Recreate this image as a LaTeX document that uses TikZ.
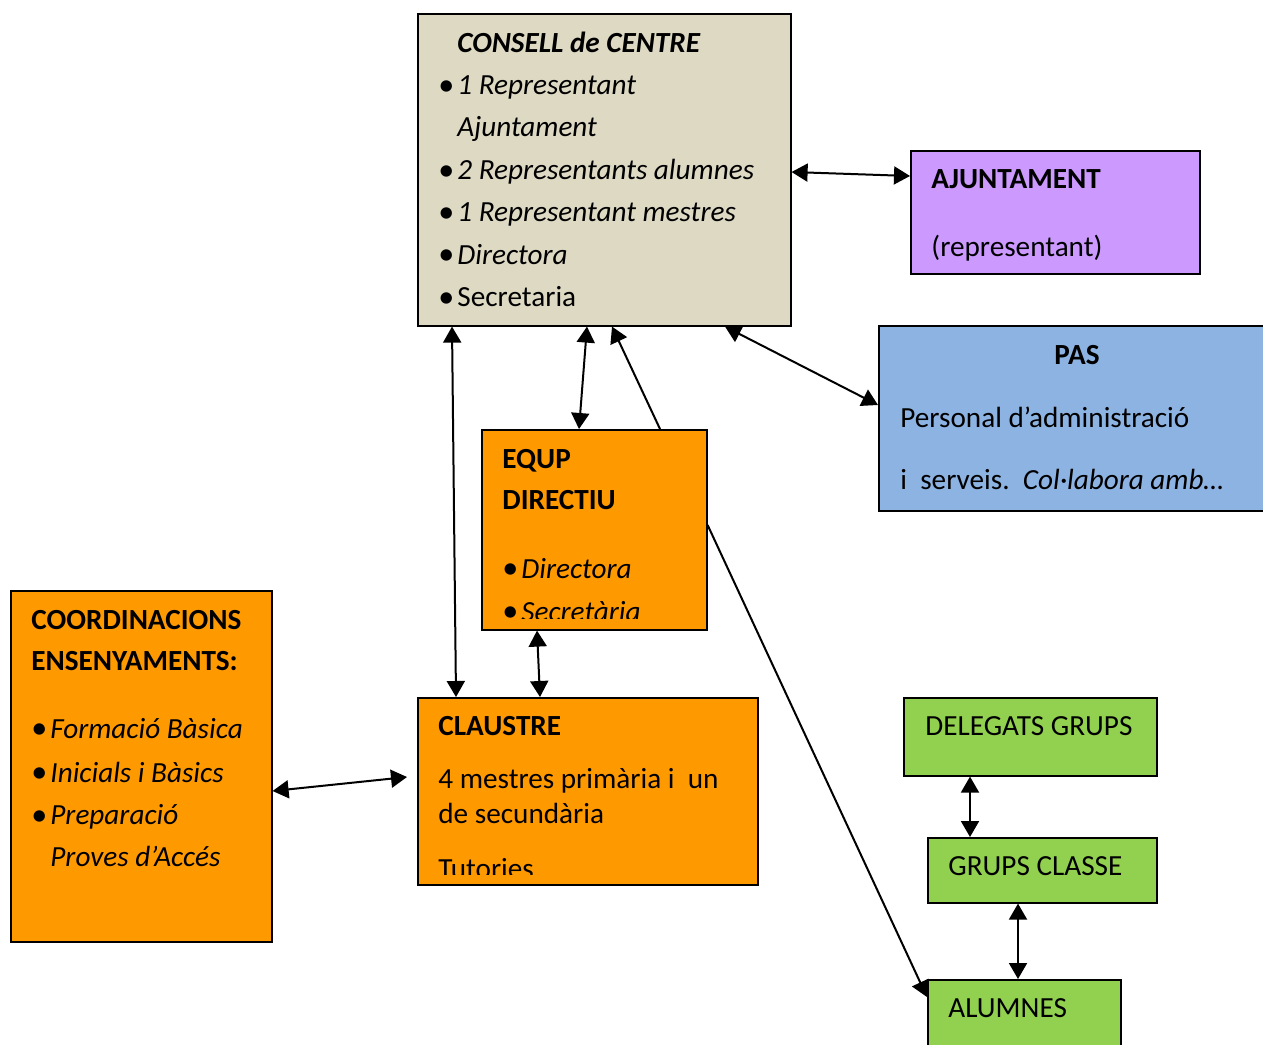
\documentclass[tikz,border=0pt]{standalone}
\usepackage{fontspec}
\setmainfont{Carlito}
\usetikzlibrary{arrows.meta}
\definecolor{consellbeige}{HTML}{DDD9C3}
\definecolor{ajuntlila}{HTML}{CC99FF}
\definecolor{pasblue}{HTML}{8DB3E2}
\definecolor{equiporange}{HTML}{FF9900}
\definecolor{grupgreen}{HTML}{92D050}
\newcommand{\bul}{\makebox[9.5pt][l]{\raisebox{-0.4pt}{\scalebox{1.1}{\textbullet}}}}
\newcommand{\ind}{\hspace*{9.5pt}}
\newcommand{\boxtext}[1]{\begin{tabular}[t]{@{}l@{}}#1\end{tabular}}

\begin{document}
\begin{tikzpicture}[x=0.5pt, y=-0.5pt, font=\fontsize{14.6}{21.2}\selectfont,
box/.style={draw, line width=0.8pt, anchor=north west, inner sep=0pt},
txt/.style={anchor=base west, inner sep=0pt},
link/.style={line width=1pt, -{Triangle[length=8pt,width=9pt]}},
twoway/.style={line width=1pt, {Triangle[length=8pt,width=9pt]}-{Triangle[length=8pt,width=9pt]}}]
\clip (0,0) rectangle (1263,1044);

\node[box, fill=consellbeige, minimum width=186.5pt, minimum height=156pt] (consell) at (417,13) {};
\node[box, fill=ajuntlila, minimum width=144.5pt, minimum height=61.5pt] (ajunt) at (910,150) {};
\node[box, fill=pasblue, minimum width=200pt, minimum height=92.5pt] (pas) at (878,325) {};
\node[box, fill=equiporange, minimum width=112.5pt, minimum height=100pt] (equp) at (481,429) {};
\node[box, fill=equiporange, minimum width=130.5pt, minimum height=175.5pt] (coord) at (10,590) {};
\node[box, fill=equiporange, minimum width=170pt, minimum height=93.5pt] (claustre) at (417,697) {};
\node[box, fill=grupgreen, minimum width=126.5pt, minimum height=39pt] (deleg) at (903,697) {};
\node[box, fill=grupgreen, minimum width=114.5pt, minimum height=32.5pt] (grups) at (927,837) {};
\node[box, fill=grupgreen, minimum width=96.5pt, minimum height=50pt] (alumnes) at (927,979) {};

\node[txt] (consellT) at (438,52) {\boxtext{\ind\textbf{\textit{CONSELL de CENTRE}}\\
\bul\textit{1 Representant}\\
\ind\textit{Ajuntament}\\
\bul\textit{2 Representants alumnes}\\
\bul\textit{1 Representant mestres}\\
\bul\textit{Directora}\\
\bul Secretaria}};
\node[txt] (ajuntT) at (931,188) {\boxtext{\textbf{AJUNTAMENT}\\[12.8pt] (representant)}};
\node[anchor=base, inner sep=0pt] (pasT) at (1077,364) {\textbf{PAS}};
\node[txt] (pasB) at (900,427) {\boxtext{Personal d’administració\\[9.8pt]
i\ \ serveis.\ \ \textit{Col·labora amb…}}};
\begin{scope}
\clip (equp.north west) rectangle ([yshift=6pt]equp.south east);
\node[txt] (equpT) at (502,468) {\boxtext{\textbf{EQUP}\\[-0.7pt]
\textbf{DIRECTIU}\\[13.3pt]
\bul\textit{Directora}\\[0.3pt]
\bul\textit{Secretària}}};
\end{scope}
\node[txt] (coordT) at (31,629) {\boxtext{\textbf{COORDINACIONS}\\[-0.7pt]
\textbf{ENSENYAMENTS:}\\[12.8pt]
\bul\textit{Formació Bàsica}\\[0.8pt]
\bul\textit{Inicials i Bàsics}\\
\bul\textit{Preparació}\\
\ind\textit{Proves d’Accés}}};
\begin{scope}
\clip (claustre.north west) rectangle ([yshift=5.5pt]claustre.south east);
\node[txt] (claustreT) at (438,735) {\boxtext{\textbf{CLAUSTRE}\\[5.3pt]
4 mestres primària i\ \ un\\[-3.7pt]
de secundària\\[6.3pt]
Tutories}};
\end{scope}
\node[txt] (delegT) at (925,735) {DELEGATS GRUPS};
\node[txt] (grupsT) at (948,875) {GRUPS CLASSE};
\node[txt] (alumnesT) at (948,1017) {ALUMNES};

\draw[twoway] ([yshift=-79.5pt]consell.north east) -- ([yshift=-13pt]ajunt.north west);
\draw[twoway] ([xshift=154pt]consell.south west) -- ([yshift=-40pt]pas.north west);
\draw[twoway] ([xshift=17.5pt]consell.south west) -- ([xshift=19.5pt]claustre.north west);
\draw[twoway] ([xshift=85pt]consell.south west) -- ([xshift=49pt]equp.north west);
\draw[link] ([xshift=89.5pt]equp.north west) -- ([xshift=97.5pt]consell.south west);
\draw[link] ([yshift=-48pt]equp.north east) -- ([yshift=-9pt]alumnes.north west);
\draw[twoway] ([xshift=28pt]equp.south west) -- ([xshift=61.5pt]claustre.north west);
\draw[twoway] ([yshift=-100.5pt]coord.north east) -- ([xshift=-5pt,yshift=-40pt]claustre.north west);
\draw[twoway] ([xshift=33.5pt]deleg.south west) -- ([xshift=21.5pt]grups.north west);
\draw[twoway] ([xshift=45.5pt]grups.south west) -- ([xshift=45.5pt]alumnes.north west);
\end{tikzpicture}
\end{document}
